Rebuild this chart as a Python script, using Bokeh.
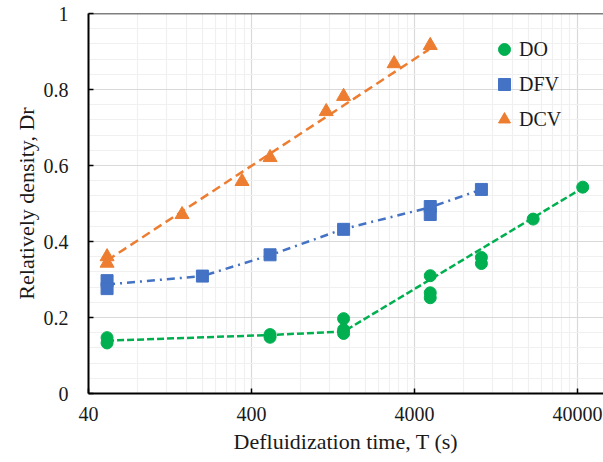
from bokeh.plotting import figure
from bokeh.models import (FixedTicker, CustomJSTickFormatter, Span,
                          Legend, LegendItem)
from bokeh.embed import file_html
from bokeh.resources import INLINE

# ---- data: relative density vs. defluidization time ----
do_t = [52, 52, 520, 520, 1470, 1470, 1470, 5000, 5000, 5000, 10300, 10300, 21400, 43100]
do_d = [0.147, 0.133, 0.155, 0.148, 0.197, 0.168, 0.158, 0.310, 0.265, 0.252, 0.358, 0.342, 0.459, 0.543]
do_guide_t = [52, 520, 1470, 43100]
do_guide_d = [0.139, 0.154, 0.163, 0.541]

dfv_t = [52, 52, 200, 520, 1470, 5000, 5000, 10300]
dfv_d = [0.297, 0.276, 0.309, 0.365, 0.432, 0.492, 0.471, 0.537]
dfv_guide_t = [52, 200, 520, 1470, 5000, 10300]
dfv_guide_d = [0.287, 0.309, 0.364, 0.433, 0.490, 0.537]

dcv_t = [52, 52, 150, 350, 520, 1150, 1470, 3000, 5000]
dcv_d = [0.360, 0.343, 0.471, 0.558, 0.621, 0.742, 0.782, 0.868, 0.916]
dcv_guide_t = [52, 4900]
dcv_guide_d = [0.350, 0.905]

x_ticks = [40, 400, 4000, 40000]
y_ticks = [0, 0.2, 0.4, 0.6, 0.8, 1.0]

x_title = "Defluidization time, T (s)"
y_title = "Relatively density, Dr"

GREEN, BLUE, ORANGE = "#00b050", "#4472c4", "#ed7d31"
SERIF = "Liberation Serif"
TXT = "#1a1a1a"

X_START, X_END = 40, 57800
p = figure(width=603, height=462, x_axis_type="log",
           x_range=(X_START, X_END), y_range=(0, 1),
           output_backend="svg", toolbar_location=None,
           min_border_left=88, min_border_right=0,
           min_border_top=13, min_border_bottom=69)
p.outline_line_color = None
p.background_fill_color = "white"
p.border_fill_color = "white"

# log-axis minor positions: 2..9 times each decade start
x_minor = [k * t for t in x_ticks for k in range(2, 10) if k * t < X_END]
y_minor = [round(i * 0.04, 2) for i in range(26)]

xt = FixedTicker(ticks=x_ticks, minor_ticks=x_minor)
yt = FixedTicker(ticks=y_ticks, minor_ticks=y_minor)
p.xaxis.ticker = xt
p.yaxis.ticker = yt
p.xgrid.ticker = xt
p.ygrid.ticker = yt

for g in (p.xgrid, p.ygrid):
    g.grid_line_color = "#d9d9d9"
    g.grid_line_width = 1.2
    g.minor_grid_line_color = "#f0f0f0"
    g.minor_grid_line_width = 1.2

p.xaxis.formatter = CustomJSTickFormatter(code="return tick.toFixed(0);")
p.yaxis.formatter = CustomJSTickFormatter(code="return String(Math.round(tick*10)/10);")

p.xaxis.axis_label = x_title
p.yaxis.axis_label = y_title

for ax in (p.xaxis[0], p.yaxis[0]):
    ax.axis_line_color = "black"
    ax.axis_line_width = 2
    ax.major_tick_in = 5
    ax.major_tick_out = 0
    ax.major_tick_line_color = "black"
    ax.major_tick_line_width = 1.5
    ax.minor_tick_line_color = None
    ax.major_label_text_font = SERIF
    ax.major_label_text_font_size = "20px"
    ax.major_label_text_color = TXT
    ax.axis_label_text_font = SERIF
    ax.axis_label_text_font_size = "22px"
    ax.axis_label_text_font_style = "normal"
    ax.axis_label_text_color = TXT
p.xaxis.major_label_standoff = 9
p.yaxis.major_label_standoff = 16
p.xaxis.axis_label_standoff = 5
p.yaxis.axis_label_standoff = 2

p.add_layout(Span(location=1, dimension="width", line_color="black", line_width=1.5))

# guide lines
p.line(do_guide_t, do_guide_d, line_color=GREEN, line_width=2.5, line_dash="7 3")
p.line(dfv_guide_t, dfv_guide_d, line_color=BLUE, line_width=2.5, line_dash="8 5 2 5")
p.line(dcv_guide_t, dcv_guide_d, line_color=ORANGE, line_width=2.5, line_dash="9 5")

# measured points
r_do = p.scatter(do_t, do_d, marker="circle", size=12, color=GREEN)
r_dfv = p.scatter(dfv_t, dfv_d, marker="square", size=12, color=BLUE)
r_dcv = p.scatter(dcv_t, dcv_d, marker="triangle", size=14, color=ORANGE)

legend = Legend(items=[LegendItem(label="DO", renderers=[r_do]),
                       LegendItem(label="DFV", renderers=[r_dfv]),
                       LegendItem(label="DCV", renderers=[r_dcv])],
                location=(401, 259), orientation="vertical",
                border_line_color=None, background_fill_alpha=0,
                padding=0, margin=0, spacing=5,
                glyph_width=30, glyph_height=30, label_height=30,
                label_standoff=-6,
                label_text_font=SERIF, label_text_font_size="20px",
                label_text_color=TXT)
p.add_layout(legend)

open("out.html", "w").write(file_html(p, INLINE))
